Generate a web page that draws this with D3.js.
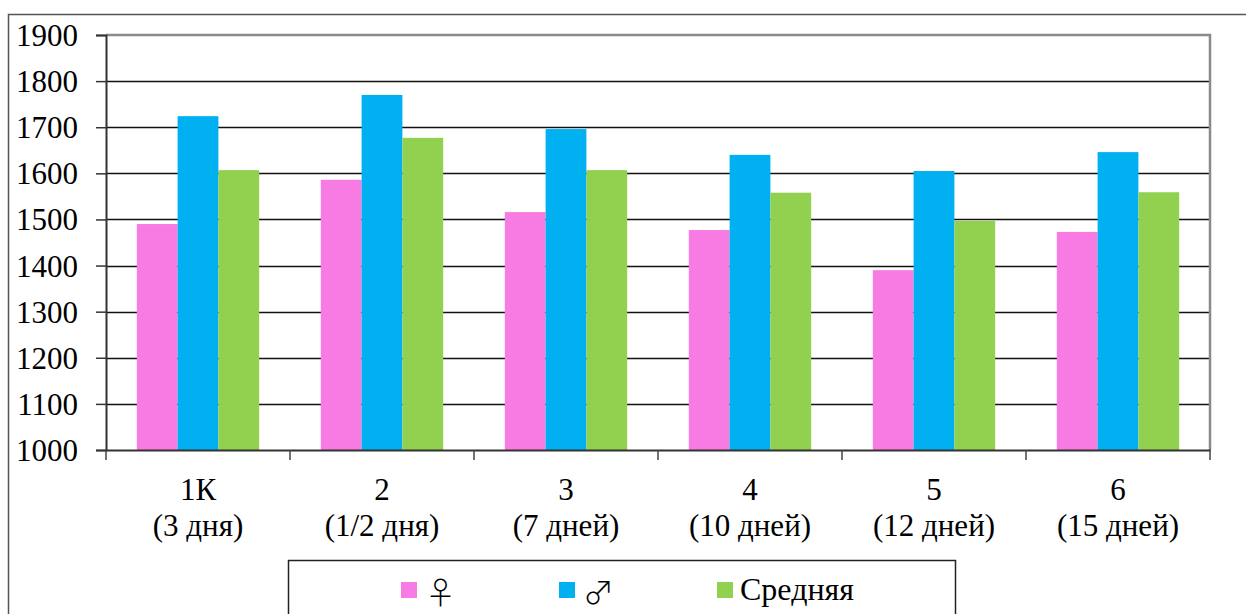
<!DOCTYPE html>
<html>
<head>
<meta charset="utf-8">
<script src="https://cdn.jsdelivr.net/npm/d3@7"></script>
<style>
  body { margin: 0; background: #fff; }
  svg { display: block; font-family: "Liberation Serif", "Times New Roman", serif; }
</style>
</head>
<body>
<svg id="chart" width="1246" height="614"></svg>
<script>
const categories = ["1К", "2", "3", "4", "5", "6"];
const subLabels = ["(3 дня)", "(1/2 дня)", "(7 дней)", "(10 дней)", "(12 дней)", "(15 дней)"];
const seriesNames = ["♀", "♂", "Средняя"];
const female = [1490, 1586, 1516, 1477, 1390, 1473];
const male = [1724, 1770, 1696, 1640, 1605, 1646];
const average = [1607, 1677, 1607, 1558, 1497, 1559];
const yTicks = [1000, 1100, 1200, 1300, 1400, 1500, 1600, 1700, 1800, 1900];

const colors = ["#F77BE2", "#00B0F0", "#92D050"];
const series = [female, male, average];

const svg = d3.select("#chart");
const margin = { left: 106, top: 35, right: 1210, bottom: 450 };
const fontSize = 31;
const serif = "Liberation Serif";

// outer chart frame (top and left edges visible)
svg.append("path")
  .attr("d", "M8.5,614V14.5H1246")
  .attr("fill", "none")
  .attr("stroke", "#555")
  .attr("stroke-width", 1.5);

const x0 = d3.scaleBand()
  .domain(categories)
  .range([margin.left, margin.right])
  .paddingInner(0.335)
  .paddingOuter(0.335 / 2);

const x1 = d3.scaleBand()
  .domain(seriesNames)
  .range([0, x0.bandwidth()]);

const y = d3.scaleLinear()
  .domain([1000, 1900])
  .range([margin.bottom, margin.top]);

// gridlines
svg.append("g")
  .selectAll("line").data(yTicks.slice(1, -1)).enter().append("line")
  .attr("x1", margin.left)
  .attr("x2", margin.right)
  .attr("y1", d => Math.round(y(d)) + 0.5)
  .attr("y2", d => Math.round(y(d)) + 0.5)
  .attr("stroke", "#111")
  .attr("stroke-width", 1.5);

// plot area border (top and right)
svg.append("path")
  .attr("d", `M${margin.left},${margin.top}H${margin.right}V${margin.bottom}`)
  .attr("fill", "none")
  .attr("stroke", "#8a8a8a")
  .attr("stroke-width", 2.5);

// bars
const groups = svg.append("g")
  .selectAll("g").data(categories).enter().append("g")
  .attr("transform", d => `translate(${x0(d)},0)`);

groups.selectAll("rect")
  .data((d, i) => series.map((s, k) => ({ name: seriesNames[k], value: s[i], color: colors[k] })))
  .enter().append("rect")
  .attr("x", d => x1(d.name))
  .attr("y", d => y(d.value))
  .attr("width", x1.bandwidth())
  .attr("height", d => y(1000) - y(d.value))
  .attr("fill", d => d.color);

// y axis
const yAxis = svg.append("g")
  .attr("transform", `translate(${margin.left},0)`)
  .call(d3.axisLeft(y).tickValues(yTicks).tickSize(10).tickPadding(18).tickFormat(d3.format("d")));
yAxis.attr("font-family", serif).attr("font-size", fontSize);
yAxis.select(".domain").attr("stroke", "#333").attr("stroke-width", 2);
yAxis.selectAll(".tick line").attr("stroke", "#333").attr("stroke-width", 1.5);
yAxis.selectAll(".tick text").attr("fill", "#000").attr("dy", "0.34em");

// x axis
const xAxis = svg.append("g")
  .attr("transform", `translate(0,${margin.bottom})`)
  .call(d3.axisBottom(x0).tickSize(0).tickFormat(""));
xAxis.select(".domain").attr("stroke", "#333").attr("stroke-width", 2);

const gap = (x0.step() - x0.bandwidth()) / 2;
const boundaries = categories.map(c => x0(c) - gap).concat([margin.right]);
xAxis.selectAll(".sep").data(boundaries).enter().append("line")
  .attr("x1", d => d).attr("x2", d => d)
  .attr("y1", 0).attr("y2", 10)
  .attr("stroke", "#444")
  .attr("stroke-width", 1.5);

const xLabels = svg.append("g")
  .attr("font-family", serif)
  .selectAll("text").data(categories).enter().append("text")
  .attr("text-anchor", "middle")
  .attr("font-size", fontSize)
  .attr("fill", "#000");
xLabels.append("tspan")
  .attr("x", d => x0(d) + x0.bandwidth() / 2)
  .attr("y", 500)
  .text(d => d);
xLabels.append("tspan")
  .attr("x", d => x0(d) + x0.bandwidth() / 2)
  .attr("y", 536)
  .text((d, i) => subLabels[i]);

// legend
svg.append("rect")
  .attr("x", 288.5)
  .attr("y", 560.5)
  .attr("width", 667)
  .attr("height", 70)
  .attr("fill", "#fff")
  .attr("stroke", "#222")
  .attr("stroke-width", 1.5);

const legendX = [401, 559, 717];
const legend = svg.append("g")
  .attr("font-family", serif)
  .selectAll("g").data(seriesNames).enter().append("g")
  .attr("transform", (d, i) => `translate(${legendX[i]},582)`);
legend.append("rect")
  .attr("width", 16)
  .attr("height", 16)
  .attr("fill", (d, i) => colors[i]);
legend.append("text")
  .attr("x", (d, i) => i === 2 ? 23 : 24)
  .attr("y", (d, i) => i === 2 ? 18 : 22)
  .attr("font-family", (d, i) => i === 2 ? serif : "Noto Sans CJK JP")
  .attr("font-size", (d, i) => i === 2 ? 32 : 31)
  .attr("font-weight", (d, i) => i === 2 ? 400 : 300)
  .attr("fill", "#000")
  .text(d => d);
</script>
</body>
</html>
